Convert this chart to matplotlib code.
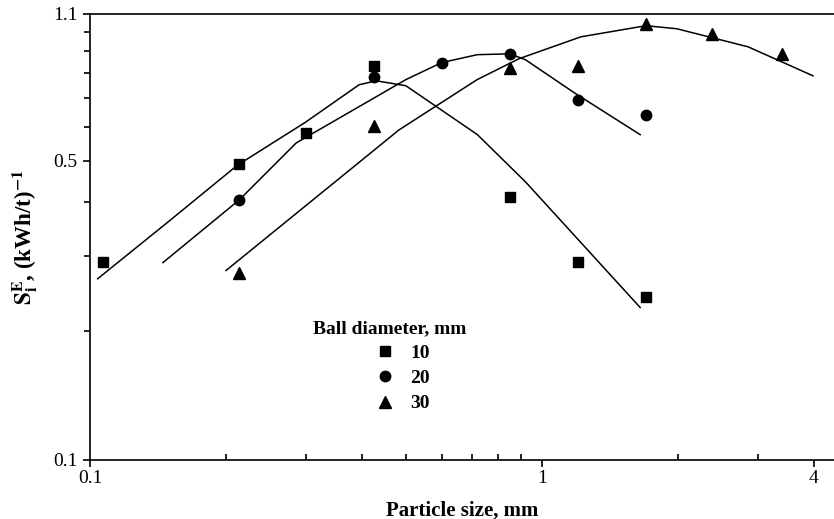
import matplotlib
matplotlib.use('Agg')
import matplotlib.pyplot as plt
from matplotlib.lines import Line2D
from matplotlib.ticker import FixedLocator, FixedFormatter, NullFormatter

plt.rcParams['font.family'] = ['Liberation Serif', 'DejaVu Serif']
plt.rcParams['mathtext.fontset'] = 'stix'

# measured points, ball diameter 10 / 20 / 30 mm
size_10 = [0.107, 0.214, 0.30, 0.425, 0.85, 1.2, 1.7]
se_10 = [0.290, 0.492, 0.581, 0.833, 0.412, 0.290, 0.240]
size_20 = [0.214, 0.425, 0.60, 0.85, 1.2, 1.7]
se_20 = [0.405, 0.785, 0.847, 0.888, 0.694, 0.640]
size_30 = [0.214, 0.425, 0.85, 1.2, 1.7, 2.38, 3.4]
se_30 = [0.274, 0.603, 0.824, 0.833, 1.04, 0.99, 0.888]

# model curves
fit_x_10 = [0.104, 0.15, 0.212, 0.3, 0.394, 0.43, 0.5, 0.72, 0.92, 1.65]
fit_y_10 = [0.265, 0.362, 0.488, 0.615, 0.752, 0.768, 0.748, 0.575, 0.446, 0.227]
fit_x_20 = [0.145, 0.214, 0.286, 0.50, 0.60, 0.72, 0.85, 0.92, 1.18, 1.65]
fit_y_20 = [0.289, 0.405, 0.55, 0.773, 0.847, 0.884, 0.888, 0.86, 0.72, 0.575]
fit_x_30 = [0.20, 0.483, 0.719, 0.89, 1.22, 1.7, 1.99, 2.86, 3.98]
fit_y_30 = [0.277, 0.590, 0.773, 0.865, 0.973, 1.033, 1.016, 0.922, 0.789]

legend_labels = ['10', '20', '30']

fig = plt.figure(figsize=(8.34, 5.19), dpi=100)
ax = fig.add_axes([90/834, 1-460/519, 1-90/834, (460-14)/519])

ax.plot(fit_x_10, fit_y_10, color='black', lw=1.1)
ax.plot(fit_x_20, fit_y_20, color='black', lw=1.1)
ax.plot(fit_x_30, fit_y_30, color='black', lw=1.1)

ax.plot(size_10, se_10, ls='none', marker='s', ms=6.5, color='black')
ax.plot(size_20, se_20, ls='none', marker='o', ms=7.5, color='black')
ax.plot(size_30, se_30, ls='none', marker='^', ms=8.5, color='black')

ax.set_xscale('log')
ax.set_yscale('log')
ax.set_xlim(0.1, 4.43)
ax.set_ylim(0.1, 1.1)

ax.xaxis.set_major_locator(FixedLocator([0.1, 1, 4]))
ax.xaxis.set_major_formatter(FixedFormatter(['0.1', '1', '4']))
ax.xaxis.set_minor_locator(FixedLocator([0.2, 0.3, 0.4, 0.5, 0.6, 0.7, 0.8, 0.9, 2, 3]))
ax.xaxis.set_minor_formatter(NullFormatter())
ax.yaxis.set_major_locator(FixedLocator([0.1, 0.5, 1.1]))
ax.yaxis.set_major_formatter(FixedFormatter(['0.1', '0.5', '1.1']))
ax.yaxis.set_minor_locator(FixedLocator([0.2, 0.3, 0.4, 0.6, 0.7, 0.8, 0.9, 1.0]))
ax.yaxis.set_minor_formatter(NullFormatter())

ax.tick_params(axis='x', which='major', direction='out', length=5, width=1.2, labelsize=14, pad=2)
ax.tick_params(axis='x', which='minor', direction='in', length=4, width=1.2)
ax.tick_params(axis='y', which='major', direction='out', length=5, width=1.2, labelsize=14, pad=4)
ax.tick_params(axis='y', which='minor', direction='out', length=4, width=1.2)

ax.spines['right'].set_visible(False)
for s in ['left', 'bottom', 'top']:
    ax.spines[s].set_linewidth(1.2)

ax.set_xlabel('Particle size, mm', fontsize=15, fontweight='bold', labelpad=10)
ax.set_ylabel(r'$\mathbf{S}_\mathbf{i}^\mathbf{E}$, (kWh/t)$^\mathbf{-1}$',
              fontsize=16.5, fontweight='bold', labelpad=9)

# legend title placed separately (entries sit right of its centre)
fig.text(313/834, 1-329/519, 'Ball diameter, mm', fontsize=14, fontweight='bold',
         ha='left', va='center')
handles = [Line2D([], [], ls='none', marker='s', ms=6.5, color='black'),
           Line2D([], [], ls='none', marker='o', ms=7.5, color='black'),
           Line2D([], [], ls='none', marker='^', ms=8.5, color='black')]
ax.legend(handles, legend_labels, frameon=False,
          loc='upper left', bbox_to_anchor=(375/834, 1-344/519),
          bbox_transform=fig.transFigure, borderpad=0, borderaxespad=0,
          handlelength=1.0, handletextpad=0.8, labelspacing=0.4,
          prop={'weight': 'bold', 'size': 14})

fig.savefig('out.png', dpi=100)
